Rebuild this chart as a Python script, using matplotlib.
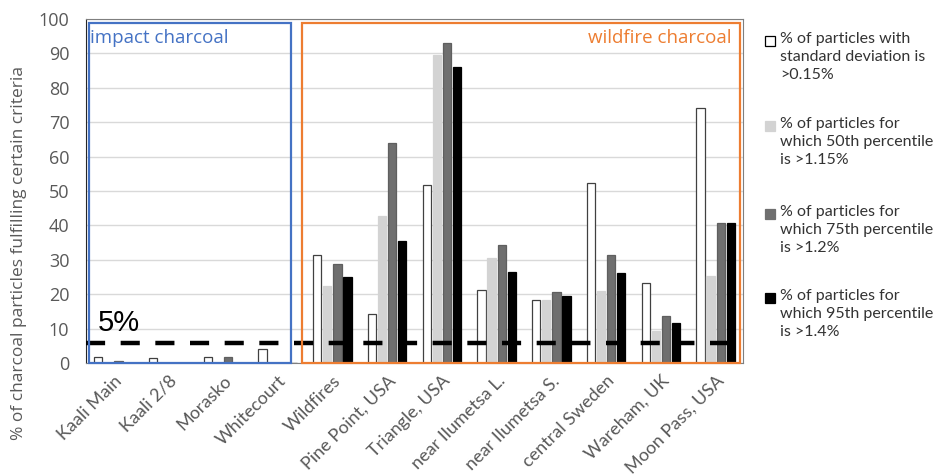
import matplotlib
matplotlib.use("Agg")
import matplotlib.pyplot as plt
from matplotlib.patches import Rectangle
import numpy as np

# data
sites = ["Kaali Main", "Kaali 2/8", "Morasko", "Whitecourt", "Wildfires",
         "Pine Point, USA", "Triangle, USA", "near Ilumetsa L.", "near Ilumetsa S.",
         "central Sweden", "Wareham, UK", "Moon Pass, USA"]
std_gt_015 = [1.6, 1.5, 1.7, 4.0, 31.3, 14.2, 51.7, 21.1, 18.4, 52.4, 23.3, 74.2]
p50_gt_115 = [0.0, 0.0, 0.0, 0.0, 22.4, 42.7, 89.5, 30.5, 18.3, 20.8, 9.2, 25.4]
p75_gt_12 = [0.6, 0.0, 1.7, 0.0, 28.8, 64.0, 92.9, 34.4, 20.6, 31.3, 13.6, 40.8]
p95_gt_14 = [0.0, 0.0, 0.0, 0.0, 25.0, 35.6, 86.0, 26.4, 19.5, 26.1, 11.6, 40.8]
series_labels = ["% of particles with\nstandard deviation is\n>0.15%",
                 "% of particles for\nwhich 50th percentile\nis >1.15%",
                 "% of particles for\nwhich 75th percentile\nis >1.2%",
                 "% of particles for\nwhich 95th percentile\nis >1.4%"]
threshold = 5.7
threshold_label = "5%"
n_impact = 4

colors = ["white", "#d3d3d3", "#6f6f6f", "black"]
edges = ["#404040", "#d3d3d3", "#5f5f5f", "black"]
series = [std_gt_015, p50_gt_115, p75_gt_12, p95_gt_14]

fig = plt.figure(figsize=(9.41, 4.75), dpi=100)
ax = fig.add_axes([0.0914, 0.2358, 0.6982, 0.7242])

x = np.arange(len(sites))
offsets = [-0.275, -0.092, 0.092, 0.275]
for vals, off, fc, ec in zip(series, offsets, colors, edges):
    ax.bar(x + off, vals, width=0.15, color=fc, edgecolor=ec, linewidth=0.9, zorder=3)

ax.set_xlim(-0.5, len(sites) - 0.5)
ax.set_ylim(0, 100)
ax.set_yticks(np.arange(0, 101, 10))
ax.yaxis.grid(True, color="#d9d9d9", linewidth=1.0, zorder=0)
ax.set_axisbelow(True)
ax.tick_params(axis="y", length=0, labelsize=13, labelcolor="#595959", pad=12)
for t in ax.get_yticklabels():
    t.set_fontfamily("Open Sans")
ax.set_xticks(x)
ax.set_xticklabels(sites, rotation=45, ha="right", rotation_mode="anchor",
                   fontsize=13, color="#595959", family="Lato")
ax.tick_params(axis="x", length=0, pad=7)
ax.set_ylabel("% of charcoal particles fulfilling certain criteria", fontsize=12.5,
              color="#595959", family="Open Sans")
ax.yaxis.set_label_coords(-0.09, 0.32)

for side in ["top", "right", "bottom"]:
    ax.spines[side].set_color("#7f7f7f")
ax.spines["left"].set_color("#262626")

# threshold line
ax.axhline(threshold, color="black", linewidth=3.2, dashes=(4.3, 3.5), zorder=4,
           clip_on=False)
ax.text(-0.28, threshold + 2.0, threshold_label, fontsize=21, color="black",
        family="Liberation Sans", va="bottom", ha="left")

# group boxes
ax.add_patch(Rectangle((-0.445, 0.0), 3.69, 98.9, fill=False,
                       edgecolor="#4472c4", linewidth=1.6, zorder=5, clip_on=False))
ax.add_patch(Rectangle((3.445, 0.0), 8.0, 98.9, fill=False,
                       edgecolor="#ed7d31", linewidth=1.6, zorder=5, clip_on=False))
ax.text(-0.43, 94.6, "impact charcoal", color="#4472c4", fontsize=13.5,
        family="Open Sans", va="center", ha="left")
ax.text(len(sites) - 0.71, 94.6, "wildfire charcoal", color="#ed7d31", fontsize=13.5,
        family="Open Sans", va="center", ha="right")

# legend drawn by hand so the markers sit on the first text line
W, H = 941.0, 475.0
entry_top = [32, 117, 205, 289]
for top, lab, fc, ec in zip(entry_top, series_labels, colors, edges):
    fig.patches.append(Rectangle((765 / W, 1 - (top + 14) / H), 10 / W, 10 / H,
                                 facecolor=fc,
                                 edgecolor="black" if fc == "white" else fc,
                                 linewidth=0.9, transform=fig.transFigure))
    fig.text(780 / W, 1 - top / H, lab, fontsize=11.5, family="Lato", color="#333333",
             va="top", ha="left", linespacing=1.38)

fig.savefig("out.png", dpi=100)
